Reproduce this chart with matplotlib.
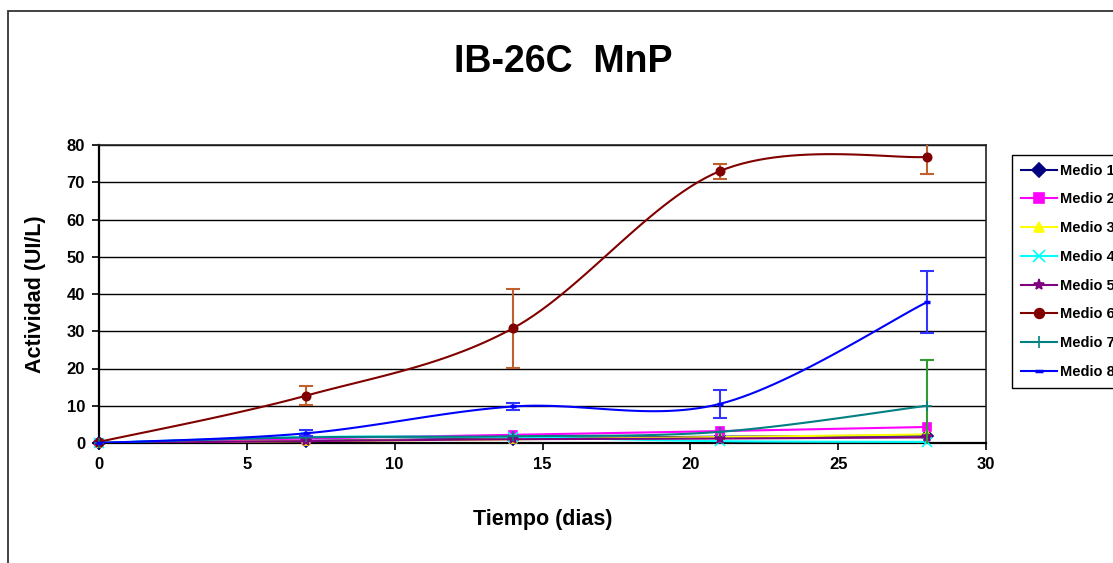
import numpy as np
import matplotlib.pyplot as plt
from matplotlib.patches import Rectangle

plt.switch_backend("AGG")
plt.rcParams["font.family"] = ["Liberation Sans", "DejaVu Sans"]

# data
days = [0, 7, 14, 21, 28]
series_names = ["Medio 1", "Medio 2", "Medio 3", "Medio 4",
                "Medio 5", "Medio 6", "Medio 7", "Medio 8"]
medio1 = [0.0, 0.6, 1.2, 1.7, 2.0]
medio2 = [0.0, 1.2, 2.2, 3.2, 4.3]
medio3 = [0.0, 0.5, 1.0, 1.6, 2.3]
medio4 = [0.0, 1.6, 1.5, 0.5, 0.3]
medio5 = [0.0, 0.5, 1.0, 1.2, 1.5]
medio6 = [0.3, 12.7, 30.8, 73.0, 76.8]
medio7 = [0.0, 1.5, 1.8, 3.0, 10.0]
medio8 = [0.0, 2.6, 9.8, 10.5, 37.8]
err6 = [0.0, 2.6, 10.6, 2.0, 4.6]
err7 = [0.0, 0.0, 0.0, 0.0, 12.3]
err8 = [0.0, 0.8, 1.0, 3.8, 8.4]

COLORS = ["#000080", "#FF00FF", "#FFFF00", "#00FFFF",
          "#800080", "#800000", "#008080", "#0000FF"]
MARKERS = ["D", "s", "^", "x", "*", "o", "+", "_"]
ERR_COLORS = {5: "#C0602E", 6: "#339933", 7: "#3333FF"}


def smooth(x, y, n=30):
    """Excel-like smoothed line: Bezier segments with Catmull-Rom controls."""
    x = np.asarray(x, float)
    y = np.asarray(y, float)
    pts = np.column_stack([x, y])
    out = [pts[0]]
    t = np.linspace(0, 1, n)[1:, None]
    for i in range(len(pts) - 1):
        p0 = pts[max(i - 1, 0)]
        p1 = pts[i]
        p2 = pts[i + 1]
        p3 = pts[min(i + 2, len(pts) - 1)]
        c1 = p1 + (p2 - p0) / 6
        c2 = p2 - (p3 - p1) / 6
        seg = ((1 - t) ** 3) * p1 + 3 * ((1 - t) ** 2) * t * c1 \
            + 3 * (1 - t) * t ** 2 * c2 + t ** 3 * p2
        out.extend(seg)
    out = np.array(out)
    return out[:, 0], out[:, 1]


fig = plt.figure(figsize=(11.13, 5.63), dpi=100)
fig.patch.set_facecolor("white")
ax = fig.add_axes([99 / 1113, 1 - 443 / 563, 887 / 1113, 298 / 563])

# chart area border (cut by figure edge, as in the reference)
fig.patches.append(Rectangle((8 / 1113, -0.2), 1.2, 1.2 - 11 / 563,
                             transform=fig.transFigure, fill=False,
                             edgecolor="#333333", linewidth=1.3, zorder=0))

all_series = [medio1, medio2, medio3, medio4, medio5, medio6, medio7, medio8]
errors = {5: err6, 6: err7, 7: err8}

handles = []
for i, vals in enumerate(all_series):
    sx, sy = smooth(days, vals)
    ax.plot(sx, sy, color=COLORS[i], linewidth=1.5, zorder=3 + i * 0.1)
    mk = MARKERS[i]
    ms = 6
    mew = 1.2
    if mk in ("x", "+", "*"):
        ms = 7
    if mk == "_":
        ms = 5
        mew = 2.5
    ax.plot(days, vals, linestyle="none", marker=mk, markersize=ms,
            color=COLORS[i], markeredgewidth=mew, zorder=3.05 + i * 0.1,
            clip_on=False)
    if i in errors:
        e = errors[i]
        idx = [k for k in range(len(days)) if e[k] > 0]
        ax.errorbar([days[k] for k in idx], [vals[k] for k in idx],
                    yerr=[e[k] for k in idx], fmt="none",
                    ecolor=ERR_COLORS[i], elinewidth=1.5, capsize=5,
                    capthick=1.5, zorder=3.02 + i * 0.1)
    h, = ax.plot([], [], color=COLORS[i], marker=mk, markersize=ms + 1,
                 markeredgewidth=mew, linewidth=1.5)
    handles.append(h)

ax.set_xlim(0, 30)
ax.set_ylim(0, 80)
ax.set_xticks(range(0, 31, 5))
ax.set_yticks(range(0, 81, 10))
ax.yaxis.grid(True, color="black", linewidth=1.0)
ax.set_axisbelow(True)
ax.tick_params(axis="both", direction="out", length=5, width=1.2,
               labelsize=12, pad=5)
for lab in ax.get_xticklabels() + ax.get_yticklabels():
    lab.set_fontweight("bold")
for side in ["left", "bottom"]:
    ax.spines[side].set_linewidth(1.6)
for side in ["top", "right"]:
    ax.spines[side].set_linewidth(1.2)
    ax.spines[side].set_color("#222222")

ax.set_xlabel("Tiempo (dias)", fontsize=15.5, fontweight="bold", labelpad=27)
ax.set_ylabel("Actividad (UI/L)", fontsize=15.5, fontweight="bold", labelpad=15)
fig.text(563 / 1113, 1 - 62 / 563, "IB-26C  MnP", fontsize=27,
         fontweight="bold", ha="center", va="center")

leg = fig.legend(handles, series_names, loc="upper left",
                 bbox_to_anchor=(1012 / 1113, 1 - 155 / 563),
                 frameon=True, fancybox=False, framealpha=1,
                 edgecolor="black", handlelength=2.5, labelspacing=1.01,
                 borderpad=0.6, borderaxespad=0, handletextpad=0.2,
                 prop={"size": 10.5, "weight": "bold"})
leg.get_frame().set_linewidth(1.0)

fig.savefig("out.png", dpi=100)
